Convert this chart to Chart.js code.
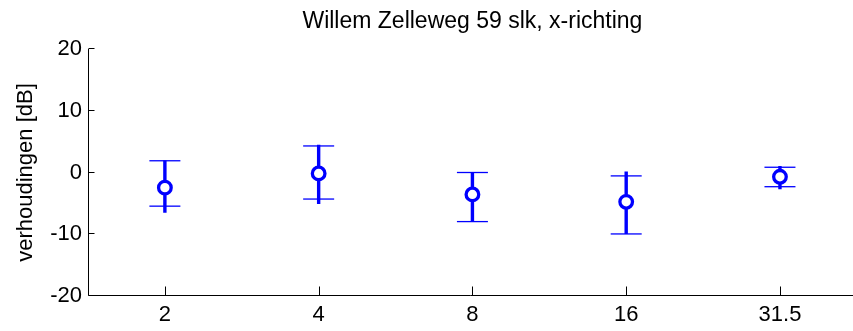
<!DOCTYPE html>
<html>
<head>
<meta charset="utf-8">
<script src="https://cdn.jsdelivr.net/npm/chart.js@4/dist/chart.umd.min.js"></script>
<style>
  html, body { margin: 0; padding: 0; background: #fff; }
  #wrap { width: 853px; height: 331px; }
</style>
</head>
<body>
<div id="wrap"><canvas id="c" width="853" height="331"></canvas></div>
<script>
// Octave band centre frequencies (Hz), shown as evenly spaced categories
const freqLabels = ['2', '4', '8', '16', '31.5'];
// Mean ratio per band (dB)
const meanDb = [-2.45, -0.15, -3.55, -4.75, -0.7];
// Spread shown with caps (dB)
const capHigh = [1.9, 4.3, 0.0, -0.55, 0.85];
const capLow = [-5.45, -4.3, -7.95, -9.95, -2.3];
// Full range shown by the thick stem (dB)
const rangeHigh = [1.95, 4.5, 0.1, 0.15, 1.05];
const rangeLow = [-6.5, -5.1, -7.9, -9.95, -2.7];
// Vertical axis ticks (dB)
const yTicks = [-20, -10, 0, 10, 20];

const titleText = 'Willem Zelleweg 59 slk, x-richting';
const yTitle = 'verhoudingen [dB]';
const FONT = '"Liberation Sans", Arial, Helvetica, sans-serif';
const BLUE = '#0000ff';

// Stems: one line dataset, broken between bands by null values
const stemPoints = [];
freqLabels.forEach((_, i) => {
  stemPoints.push({ x: i, y: rangeLow[i] });
  stemPoints.push({ x: i, y: rangeHigh[i] });
  stemPoints.push({ x: i, y: null });
});
const capPoints = [];
freqLabels.forEach((_, i) => {
  capPoints.push({ x: i, y: capHigh[i] });
  capPoints.push({ x: i, y: capLow[i] });
});
const meanPoints = meanDb.map((v, i) => ({ x: i, y: v }));

// Axis lines with inward tick marks and the title above the axes
const axesPlugin = {
  id: 'matlabAxes',
  afterDatasetsDraw(chart) {
    const { ctx, chartArea: a, scales: { x, y } } = chart;
    ctx.save();
    ctx.strokeStyle = '#000';
    ctx.lineWidth = 1;
    ctx.beginPath();
    const lx = Math.round(a.left) + 0.5;
    const by = Math.round(a.bottom) - 0.5;
    ctx.moveTo(lx, Math.round(a.top));
    ctx.lineTo(lx, by);
    ctx.lineTo(chart.width, by);
    yTicks.forEach(v => {
      const py = Math.round(y.getPixelForValue(v)) - 0.5;
      ctx.moveTo(lx, py);
      ctx.lineTo(lx + 6, py);
    });
    freqLabels.forEach((_, i) => {
      const px = Math.round(x.getPixelForValue(i)) + 0.5;
      ctx.moveTo(px, by);
      ctx.lineTo(px, by - 9);
    });
    ctx.stroke();

    ctx.fillStyle = '#000';
    ctx.font = '23px ' + FONT;
    ctx.textAlign = 'center';
    ctx.textBaseline = 'middle';
    ctx.fillText(titleText, x.getPixelForValue((freqLabels.length - 1) / 2), 22);
    ctx.restore();
  }
};

new Chart(document.getElementById('c'), {
  type: 'scatter',
  data: {
    datasets: [
      {
        type: 'line',
        data: stemPoints,
        borderColor: BLUE,
        borderWidth: 3.4,
        borderCapStyle: 'butt',
        pointRadius: 0,
        spanGaps: false,
        order: 3
      },
      {
        data: capPoints,
        pointStyle: 'line',
        pointRadius: 15.5,
        borderColor: BLUE,
        borderWidth: 1.3,
        backgroundColor: BLUE,
        order: 2
      },
      {
        data: meanPoints,
        pointStyle: 'circle',
        pointRadius: 6.3,
        borderWidth: 3.3,
        borderColor: BLUE,
        backgroundColor: '#fff',
        order: 1
      }
    ]
  },
  options: {
    responsive: false,
    animation: false,
    devicePixelRatio: 1,
    layout: { autoPadding: false, padding: { top: 49, right: 0, bottom: 0, left: 0 } },
    plugins: {
      legend: { display: false },
      tooltip: { enabled: false },
      title: { display: false }
    },
    scales: {
      x: {
        type: 'linear',
        min: -0.5,
        max: 4.475,
        offset: false,
        grid: { display: false, drawTicks: false },
        border: { display: false },
        afterBuildTicks: s => { s.ticks = freqLabels.map((_, i) => ({ value: i })); },
        afterFit: s => { s.height = 35; s.paddingLeft = 0; s.paddingRight = 0; },
        ticks: {
          callback: v => freqLabels[v] ?? '',
          color: '#000',
          font: { family: FONT, size: 22 },
          padding: 6,
          maxRotation: 0,
          autoSkip: false
        }
      },
      y: {
        min: -20,
        max: 20,
        grid: { display: false, drawTicks: false },
        border: { display: false },
        afterBuildTicks: s => { s.ticks = yTicks.map(v => ({ value: v })); },
        afterFit: s => { s.width = 88; s.paddingTop = 0; s.paddingBottom = 0; },
        ticks: {
          color: '#000',
          font: { family: FONT, size: 22 },
          padding: 6
        },
        title: {
          display: true,
          text: yTitle,
          color: '#000',
          font: { family: FONT, size: 22 },
          padding: { top: 13, bottom: 0 }
        }
      }
    }
  },
  plugins: [axesPlugin]
});
</script>
</body>
</html>
